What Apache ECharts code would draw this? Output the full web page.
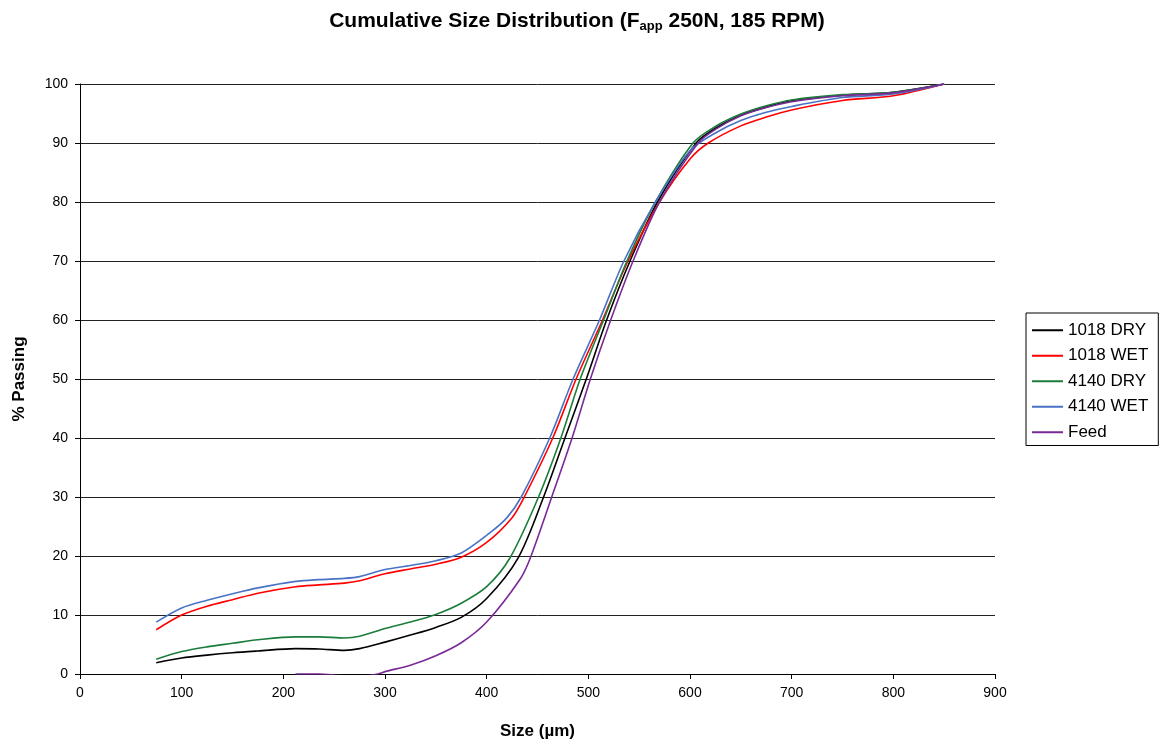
<!DOCTYPE html>
<html>
<head>
<meta charset="utf-8">
<script src="https://cdn.jsdelivr.net/npm/echarts@6/dist/echarts.min.js"></script>
<style>
  html, body { margin: 0; padding: 0; background: #fff; }
  #chart { width: 1159px; height: 745px; }
</style>
</head>
<body>
<div id="chart"></div>
<script>
// 各曲线的数据：[粒径(µm), 累计通过率(%)]
const seriesNames = ['1018 DRY', '1018 WET', '4140 DRY', '4140 WET', 'Feed'];
const seriesColors = ['#000000', '#ff0000', '#1b7d3a', '#4a72c4', '#7a2a96'];

const dry1018 = [[75,1.9],[100,2.7],[125,3.2],[150,3.6],[175,3.9],[212,4.3],[235,4.25],[260,4.0],[275,4.3],[300,5.4],[325,6.6],[350,7.9],[375,9.6],[400,12.8],[431,19.7],[456,30],[477,40],[498,50],[518,60],[541,70],[568,80],[606,90],[625,92.5],[650,94.7],[675,96.1],[700,97.2],[750,98.1],[800,98.6],[850,100]];
const wet1018 = [[75,7.5],[100,10.0],[125,11.5],[150,12.6],[175,13.7],[212,14.8],[235,15.1],[260,15.4],[275,15.8],[300,17.0],[325,17.8],[350,18.6],[375,19.8],[400,22.3],[425,26.5],[437,30],[465,40],[488,50],[514,60],[539,70],[570,80],[600,87.3],[618,90],[650,92.9],[675,94.4],[700,95.6],[750,97.2],[800,98.0],[850,100]];
const dry4140 = [[75,2.5],[100,3.8],[125,4.6],[150,5.2],[175,5.8],[212,6.3],[235,6.3],[260,6.1],[275,6.4],[300,7.7],[325,8.8],[350,10.1],[375,12.0],[400,14.8],[423,19.7],[451,30],[473,40],[492,50],[515,60],[538,70],[566,80],[603,90],[625,92.8],[650,94.9],[675,96.3],[700,97.3],[750,98.2],[800,98.6],[850,100]];
const wet4140 = [[75,8.8],[100,11.2],[125,12.5],[150,13.6],[175,14.6],[212,15.7],[235,16.0],[260,16.2],[275,16.5],[300,17.7],[325,18.4],[350,19.2],[375,20.5],[403,23.9],[420,26.5],[434,30],[462,40],[485,50],[511,60],[535,70],[566,80],[600,88.7],[625,91.7],[650,93.8],[675,95.2],[700,96.2],[750,97.7],[800,98.3],[850,100]];
const feed = [[212,0],[235,0],[260,-0.3],[280,-0.3],[293,0],[300,0.4],[325,1.5],[350,3.1],[375,5.3],[400,8.8],[433,16.1],[443,19.7],[464,30],[484,40],[502,50],[522,60],[544,70],[570,80],[608,90],[625,92.3],[650,94.6],[675,96.0],[700,97.0],[750,98.0],[800,98.5],[850,100]];

const seriesData = [dry1018, wet1018, dry4140, wet4140, feed];

const font = 'Arial, "Liberation Sans", sans-serif';

const option = {
    backgroundColor: '#fff',
    animation: false,
    title: {
        text: 'Cumulative Size Distribution (F{sub|app} 250N, 185 RPM)',
        left: 572,
        textAlign: 'center',
        top: 5,
        textStyle: {
            fontFamily: font,
            fontSize: 21,
            fontWeight: 'bold',
            color: '#000',
            rich: {
                sub: { fontFamily: font, fontSize: 13, fontWeight: 'bold', color: '#000', verticalAlign: 'bottom', padding: [10, 0, 0, 0] }
            }
        }
    },
    legend: {
        orient: 'vertical',
        left: 1026,
        top: 313,
        padding: [8, 10, 4, 6],
        borderColor: '#000',
        borderWidth: 1,
        icon: 'rect',
        itemWidth: 31,
        itemHeight: 2,
        itemGap: 7,
        textStyle: { fontFamily: font, fontSize: 17, lineHeight: 18.5, color: '#000' },
        data: seriesNames
    },
    grid: { left: 80, right: 164, top: 84, bottom: 66, containLabel: false },
    xAxis: {
        type: 'value',
        min: 0, max: 900, interval: 100,
        name: 'Size (µm)',
        nameLocation: 'middle',
        nameGap: 49,
        nameTextStyle: { fontFamily: font, fontSize: 17, fontWeight: 'bold', color: '#000' },
        axisLine: { lineStyle: { color: '#000', width: 1 } },
        axisTick: { show: true, length: 5, lineStyle: { color: '#000' } },
        axisLabel: { fontFamily: font, fontSize: 14, color: '#000', margin: 12 },
        splitLine: { show: false }
    },
    yAxis: {
        type: 'value',
        min: 0, max: 100, interval: 10,
        name: '% Passing',
        nameLocation: 'middle',
        nameRotate: 90,
        nameGap: 52,
        nameTextStyle: { fontFamily: font, fontSize: 17, fontWeight: 'bold', color: '#000' },
        axisLine: { show: true, lineStyle: { color: '#000', width: 1 } },
        axisTick: { show: true, length: 5, lineStyle: { color: '#000' } },
        axisLabel: { fontFamily: font, fontSize: 14, color: '#000', margin: 12 },
        splitLine: { show: true, lineStyle: { color: '#222', width: 1 } }
    },
    series: seriesNames.map(function (name, i) {
        return {
            name: name,
            type: 'line',
            data: seriesData[i],
            smooth: 0.3,
            symbol: 'none',
            clip: true,
            lineStyle: { color: seriesColors[i], width: 1.6 },
            itemStyle: { color: seriesColors[i] }
        };
    })
};

const myChart = echarts.init(document.getElementById('chart'));
myChart.setOption(option);
</script>
</body>
</html>
